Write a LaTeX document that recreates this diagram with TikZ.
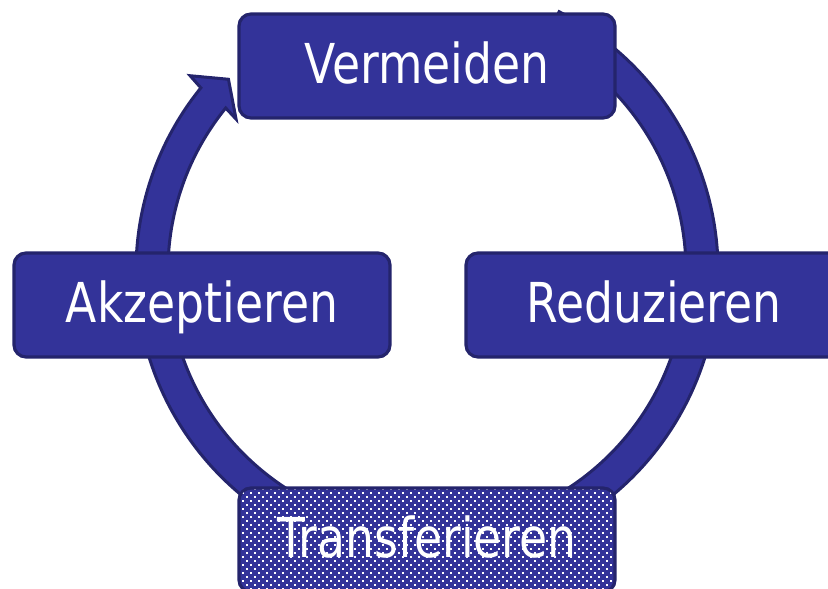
\documentclass[tikz,border=0pt]{standalone}
\usepackage{graphicx}
\usepackage{fontspec}
\setmainfont{DejaVu Sans}
\definecolor{boxblue}{HTML}{333399}
\definecolor{boxedge}{HTML}{24246C}
\newcommand\sqzword[1]{\scalebox{0.83}[1]{#1}}
\begin{document}
\begin{tikzpicture}[x=1pt,y=1pt,
  stagebox/.style={draw=boxedge, fill=boxblue, line width=3.2pt, rounded corners=12pt,
    minimum width=376pt, minimum height=104pt, inner sep=0pt, outer sep=0pt,
    text=white, font=\fontsize{55}{60}\selectfont, text height=36pt, text depth=0pt},
  ringarrow/.style={draw=boxedge, fill=boxblue, line width=3pt, line join=miter}]
\useasboundingbox (0,0) rectangle (828,589);
\clip (0,0) rectangle (828,589);
% cycle arrow
\begin{scope}[shift={(427,318)}]
  \draw[ringarrow] (63:291) arc[start angle=63, end angle=-219, radius=291]
    -- (-219.5:307) -- (-224:276) -- (-218.5:244) -- (-219:259)
    arc[start angle=-219, end angle=63, radius=259] -- cycle;
\end{scope}
% stages
\node[stagebox] (verm) at (427,523) {\sqzword{Vermeiden}};
\node[stagebox] (akz) at (202,284) {\sqzword{Akzeptieren}};
\node[stagebox] (red) at (654,284) {\sqzword{Reduzieren}};
\node[stagebox] (trans) at (427,49) {\sqzword{Transferieren}};
% dotted fill of the transfer box
\begin{scope}
  \clip[rounded corners=10pt] ([shift={(1.6,1.6)}]trans.south west) rectangle ([shift={(-1.6,-1.6)}]trans.north east);
  \foreach \j in {0,...,27}{
    \pgfmathtruncatemacro\off{mod(\j,2)*4}
    \foreach \i in {0,...,47}{
      \fill[white] ({238+\i*8+\off},{-5+\j*4}) rectangle ++(1.8,1.8);
    }
  }
\end{scope}
\end{tikzpicture}
\end{document}
